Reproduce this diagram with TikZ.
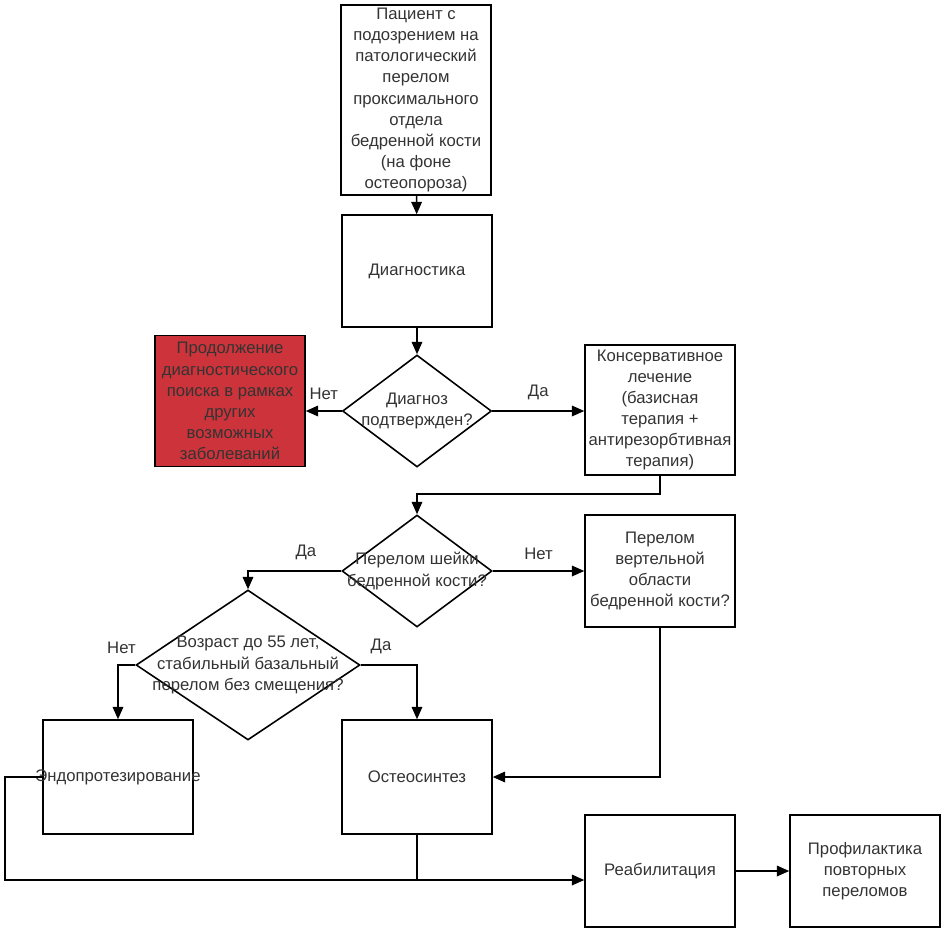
\documentclass[tikz,border=0pt]{standalone}
\usepackage{fontspec}
\setmainfont{Liberation Sans}
\usetikzlibrary{shapes.geometric,arrows.meta}
\definecolor{boxred}{RGB}{204,51,58}
\definecolor{txtgray}{RGB}{51,51,51}
\begin{document}
\begin{tikzpicture}[x=0.02cm,y=-0.02cm,
        line width=0.9pt,
        every node/.style={font=\fontsize{9.5}{12}\selectfont,text=txtgray},
        block/.style={draw=black,rectangle,minimum width=3cm,minimum height=2.24cm,align=center,inner sep=1pt},
        decision/.style={draw=black,diamond,inner sep=0pt},
        dtext/.style={align=center,inner sep=0pt},
        arr/.style={-{Triangle[length=7pt,width=6pt]}},
        lab/.style={inner sep=1pt}]
    \useasboundingbox (0,0) rectangle (946,934);
    % boxes
    \node[block,minimum height=3.8cm] (patient) at (416,100) {Пациент с\\подозрением на\\патологический\\перелом\\проксимального\\отдела\\бедренной кости\\(на фоне\\остеопороза)};
    \node[block] (diag) at (417,271) {Диагностика};
    \node[decision,minimum width=2.98cm,minimum height=2.24cm] (d1) at (417,411) {};
    \node[dtext] (d1t) at (d1) {Диагноз\\подтвержден?};
    \node[block,fill=boxred,minimum height=2.62cm] (search) at (230,401) {Продолжение\\диагностического\\поиска в рамках\\других\\возможных\\заболеваний};
    \node[block,minimum height=2.6cm] (conserv) at (660,410) {Консервативное\\лечение\\(базисная\\терапия +\\антирезорбтивная\\терапия)};
    \node[decision,minimum width=3cm,minimum height=2.24cm] (d2) at (417,571) {};
    \node[dtext] (d2t) at (d2) {Перелом шейки\\бедренной кости?};
    \node[block] (trochanter) at (660,571) {Перелом\\вертельной\\области\\бедренной кости?};
    \node[decision,minimum width=4.48cm,minimum height=3cm] (d3) at (248,665) {};
    \node[dtext] (d3t) at (d3) {Возраст до 55 лет,\\стабильный базальный\\перелом без смещения?};
    \node[block,minimum height=2.28cm] (endo) at (118,777) {};
    \node[dtext] (endot) at (endo) {Эндопротезирование};
    \node[block,minimum height=2.28cm] (osteo) at (417,777) {Остеосинтез};
    \node[block] (rehab) at (660,871) {Реабилитация};
    \node[block] (prevent) at (865,871) {Профилактика\\повторных\\переломов};
    % connectors
    \draw[arr] (patient) -- (diag);
    \draw[arr] (diag) -- (d1);
    \draw[arr] (d1.west) -- (search.east |- d1.west) node[lab,midway,above=5pt] {Нет};
    \draw[arr] (d1.east) -- (conserv.west |- d1.east) node[lab,midway,above=5pt] {Да};
    \draw[arr] (conserv.south) -- ++(0,18) -| (d2.north);
    \draw[arr] (d2.east) -- (trochanter.west |- d2.east) node[lab,midway,above=5pt] {Нет};
    \draw[arr] (d2.west) -| (d3.north) node[lab,pos=0.19,above=5pt] {Да};
    \draw[arr] (d3.west) -| (endo.north) node[lab,pos=0.4,above=5pt] {Нет};
    \draw[arr] (d3.east) -| (osteo.north) node[lab,pos=0.18,above=5pt] {Да};
    \draw[arr] (trochanter.south) |- (osteo.east);
    \coordinate (join) at (417,880);
    \coordinate (loop) at (5,777);
    \draw[arr] (endo.west) -- (loop) |- (rehab.west |- join);
    \draw (osteo.south) -- (join);
    \draw[arr] (rehab) -- (prevent);
\end{tikzpicture}
\end{document}
